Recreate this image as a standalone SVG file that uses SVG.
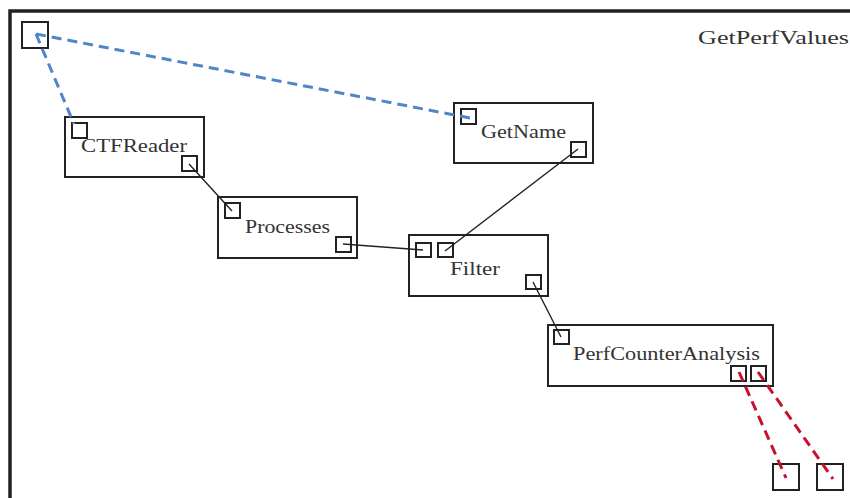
<svg xmlns="http://www.w3.org/2000/svg" width="850" height="498" viewBox="0 0 850 498">
<style>
.box{fill:none;stroke:#222;stroke-width:2}
.port{fill:none;stroke:#222;stroke-width:2}
.lbl{font-family:"Liberation Serif","Times New Roman",serif;font-size:18px;fill:#333}
.wire{stroke:#222;stroke-width:1.4;fill:none}
.blue{stroke:#4f86c6;stroke-width:3;stroke-dasharray:10,6;fill:none}
.red{stroke:#c8102e;stroke-width:3;stroke-dasharray:10,6;fill:none}
</style>
<rect width="850" height="498" fill="#fff"/>
<g id="GetPerfValues">
<path d="M10,498 V11 H850" fill="none" stroke="#222" stroke-width="3.5"/>
<text class="lbl" x="698" y="44" textLength="151" lengthAdjust="spacingAndGlyphs">GetPerfValues</text>
<rect class="port" x="22" y="22" width="26" height="26"/>
<rect class="port" x="773" y="464" width="26" height="26"/>
<rect class="port" x="817" y="464" width="26" height="26"/>
</g>
<g id="CTFReader">
<rect class="box" x="65" y="117" width="139" height="60"/>
<rect class="port" x="72" y="123" width="15" height="15"/>
<rect class="port" x="182" y="156" width="15" height="15"/>
<text class="lbl" x="81" y="152" textLength="106" lengthAdjust="spacingAndGlyphs">CTFReader</text>
</g>
<g id="GetName">
<rect class="box" x="454" y="103" width="139" height="60"/>
<rect class="port" x="461" y="109" width="15" height="15"/>
<rect class="port" x="571" y="142" width="15" height="15"/>
<text class="lbl" x="481" y="138" textLength="85" lengthAdjust="spacingAndGlyphs">GetName</text>
</g>
<g id="Processes">
<rect class="box" x="218" y="197" width="139" height="61"/>
<rect class="port" x="225" y="203" width="15" height="15"/>
<rect class="port" x="336" y="237" width="15" height="15"/>
<text class="lbl" x="245" y="233" textLength="85" lengthAdjust="spacingAndGlyphs">Processes</text>
</g>
<g id="Filter">
<rect class="box" x="409" y="235" width="139" height="61"/>
<rect class="port" x="416" y="243" width="15" height="14"/>
<rect class="port" x="438" y="243" width="15" height="14"/>
<rect class="port" x="526" y="275" width="15" height="14"/>
<text class="lbl" x="450" y="275" textLength="50" lengthAdjust="spacingAndGlyphs">Filter</text>
</g>
<g id="PerfCounterAnalysis">
<rect class="box" x="548" y="325" width="225" height="61"/>
<rect class="port" x="554" y="330" width="15" height="14"/>
<rect class="port" x="731" y="366" width="15" height="15"/>
<rect class="port" x="751" y="366" width="15" height="15"/>
<text class="lbl" x="573" y="360" textLength="187" lengthAdjust="spacingAndGlyphs">PerfCounterAnalysis</text>
</g>
<g id="connectors">
<line class="blue" x1="36" y1="34" x2="470" y2="118"/>
<line class="blue" x1="36" y1="34" x2="74" y2="124"/>
<line class="wire" x1="189" y1="164" x2="232" y2="211"/>
<line class="wire" x1="343" y1="244" x2="423" y2="250"/>
<line class="wire" x1="578" y1="149" x2="445" y2="251"/>
<line class="wire" x1="533" y1="282" x2="561" y2="337"/>
<line class="red" x1="739" y1="372" x2="786" y2="478"/>
<line class="red" x1="758" y1="372" x2="833" y2="479"/>
</g>
</svg>
